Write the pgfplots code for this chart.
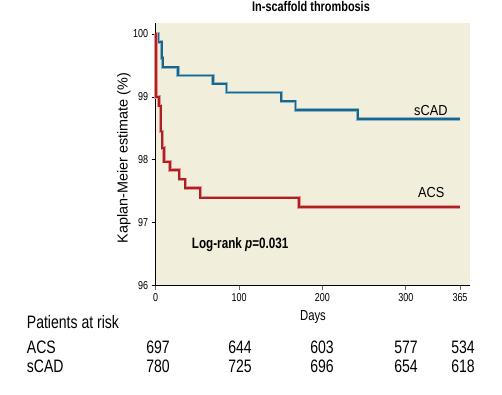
\documentclass[border=0pt]{standalone}
\usepackage{pgfplots}
\pgfplotsset{compat=1.18}
\usepackage{fontspec}
\setmainfont{Liberation Sans}
\newfontfamily\cond{Liberation Sans}[FakeStretch=0.78]
\newfontfamily\semi{Liberation Sans}[FakeStretch=0.88]
\definecolor{bgc}{RGB}{242,238,220}
\definecolor{scad}{RGB}{24,102,140}
\definecolor{scadh}{RGB}{140,180,196}
\definecolor{acs}{RGB}{176,32,34}
\definecolor{acsh}{RGB}{222,150,146}
\begin{document}
\begin{tikzpicture}[x=1pt,y=1pt]
\useasboundingbox (0,0) rectangle (502,394);
\begin{axis}[
  at={(155.7pt,108.3pt)}, anchor=south west,
  scale only axis, width=314.3pt, height=263pt,
  xmin=0, xmax=377, ymin=96, ymax=100.18,
  axis background/.style={fill=bgc},
  axis x line*=bottom, axis y line*=left,
  axis line style={-, line width=1.3pt, black},
  xtick={0,100,200,300,365}, ytick={96,97,98,99,100},
  tick align=outside, major tick length=4pt,
  xtick style={gray!80!black, line width=1pt},
  ytick style={black, line width=0.8pt},
  tick label style={font=\cond\fontsize{11.5}{12}\selectfont},
  /pgf/number format/assume math mode=true,
  clip=false,
]
\addplot[const plot, scadh, line width=3.4pt] coordinates {
 (0,100) (3.1,99.87) (7.2,99.62) (8.4,99.47) (26.6,99.34) (68.6,99.21) (85,99.07) (150.6,98.93) (167.8,98.79) (242.2,98.65) (365,98.65)};
\addplot[const plot, scad, line width=1.8pt] coordinates {
 (0,100) (3.1,99.87) (7.2,99.62) (8.4,99.47) (26.6,99.34) (68.6,99.21) (85,99.07) (150.6,98.93) (167.8,98.79) (242.2,98.65) (365,98.65)};
\addplot[const plot, acsh, line width=3.4pt] coordinates {
 (0,100) (0.4,99.0) (4,98.86) (6,98.45) (8,98.19) (10,97.97) (17.2,97.84) (28.3,97.69) (35.5,97.55) (53.5,97.40) (171.7,97.25) (365,97.25)};
\addplot[const plot, acs, line width=1.8pt] coordinates {
 (0,100) (0.4,99.0) (4,98.86) (6,98.45) (8,98.19) (10,97.97) (17.2,97.84) (28.3,97.69) (35.5,97.55) (53.5,97.40) (171.7,97.25) (365,97.25)};
\end{axis}
% title
\node[anchor=base, inner sep=0] at (311,382.3) {\cond\bfseries\fontsize{14}{16}\selectfont In-scaffold thrombosis};
% y label
\node[rotate=90, inner sep=0] at (124,236) {\fontsize{14.4}{16}\selectfont Kaplan-Meier estimate (\%)};
% x label
\node[anchor=base, inner sep=0] at (313,73.3) {\cond\fontsize{14.5}{16}\selectfont Days};
% curve labels
\node[anchor=base west, inner sep=0] at (414,278.7) {\semi\fontsize{14.5}{16}\selectfont sCAD};
\node[anchor=base west, inner sep=0] at (418,196.2) {\semi\fontsize{14.5}{16}\selectfont ACS};
% log-rank
\node[anchor=base west, inner sep=0] at (191.7,145.7) {\cond\bfseries\fontsize{15}{17}\selectfont Log-rank \textit{p}=0.031};
% risk table
\node[anchor=base west, inner sep=0] at (26.7,65.7) {\cond\fontsize{18}{20}\selectfont Patients at risk};
\node[anchor=base west, inner sep=0] at (26.7,40.7) {\cond\fontsize{18}{20}\selectfont ACS};
\node[anchor=base west, inner sep=0] at (26.7,21.7) {\cond\fontsize{18}{20}\selectfont sCAD};
\foreach \xx/\a/\s in {158/697/780, 240/644/725, 322/603/696, 406/577/654, 463/534/618}{
  \node[anchor=base, inner sep=0] at (\xx,40.7) {\cond\fontsize{18}{20}\selectfont \a};
  \node[anchor=base, inner sep=0] at (\xx,21.7) {\cond\fontsize{18}{20}\selectfont \s};
}
\end{tikzpicture}
\end{document}
